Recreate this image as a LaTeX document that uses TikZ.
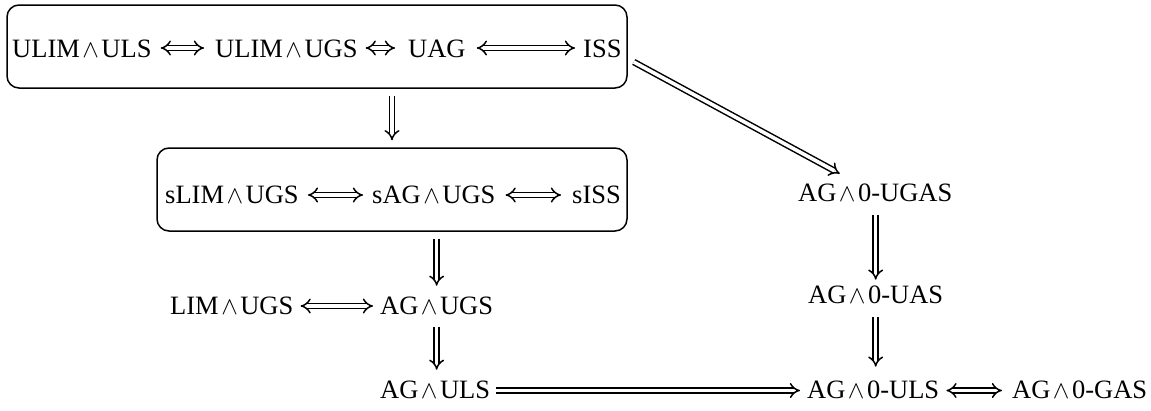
\documentclass[tikz,border=0pt]{standalone}
\usepackage{fontspec}
\setmainfont{Liberation Serif}
\usetikzlibrary{arrows.meta}

% logical "and" between two property names
\newcommand{\wg}{\kern2.5pt$\wedge$\kern2.5pt}

\begin{document}
\begin{tikzpicture}[x=1pt,y=-1pt,
  every node/.style={font=\fontsize{26.5}{30}\selectfont},
  lbl/.style={inner sep=0pt, anchor=base west},
  frame/.style={draw, line width=1.5pt, rounded corners=12pt, inner sep=0pt},
  imp/.style={double, double distance=3.6pt, line width=1.5pt, -{Implies[scale=1.3]}},
  iff/.style={double, double distance=3.6pt, line width=1.5pt, {Implies[scale=1.3]}-{Implies[scale=1.3]}},
]
\useasboundingbox (0,0) rectangle (1151,410);

% grouping frames
\node[frame, minimum width=620pt, minimum height=83pt] (top) at (317,46.5) {};
\node[frame, minimum width=470pt, minimum height=83pt] (mid) at (392,189.5) {};

% first row (uniform properties)
\node[lbl] (a1) at (12,57) {ULIM\wg ULS};
\node[lbl] (a2) at (215,57) {ULIM\wg UGS};
\node[lbl] (a3) at (408,57) {UAG};
\node[lbl] (a4) at (583,57) {ISS};

% second row (strong properties)
\node[lbl] (b1) at (165,203.5) {sLIM\wg UGS};
\node[lbl] (b2) at (372,203.5) {sAG\wg UGS};
\node[lbl] (b3) at (572,203.5) {sISS};

% third row
\node[lbl] (c1) at (170,314.5) {LIM\wg UGS};
\node[lbl] (c2) at (380,314.5) {AG\wg UGS};

% bottom row
\node[lbl] (d1) at (380,398.5) {AG\wg ULS};
\node[lbl] (d2) at (807,398.5) {AG\wg 0-ULS};
\node[lbl] (d3) at (1012,398.5) {AG\wg 0-GAS};

% right column
\node[lbl] (e1) at (798,201.5) {AG\wg 0-UGAS};
\node[lbl] (e2) at (808,303.5) {AG\wg 0-UAS};

% equivalences inside the rows
\draw[iff, shorten <=9pt, shorten >=11pt] ([yshift=9pt]a1.base east) -- ([yshift=9pt]a2.base west);
\draw[iff, shorten <=8pt, shorten >=13pt] ([yshift=9pt]a2.base east) -- ([yshift=9pt]a3.base west);
\draw[iff, shorten <=11pt, shorten >=8pt] ([yshift=9pt]a3.base east) -- ([yshift=9pt]a4.base west);
\draw[iff, shorten <=9pt, shorten >=9pt] ([yshift=8.5pt]b1.base east) -- ([yshift=8.5pt]b2.base west);
\draw[iff, shorten <=10pt, shorten >=11pt] ([yshift=8.5pt]b2.base east) -- ([yshift=8.5pt]b3.base west);
\draw[iff, shorten <=7pt, shorten >=7pt] ([yshift=8.5pt]c1.base east) -- ([yshift=8.5pt]c2.base west);
\draw[iff, shorten <=7pt, shorten >=10pt] ([yshift=8pt]d2.base east) -- ([yshift=8pt]d3.base west);

% implications
\draw[imp, shorten <=6pt, shorten >=7pt] ([yshift=8pt]d1.base east) -- ([yshift=8pt]d2.base west);
\draw[imp, shorten <=7pt, shorten >=7pt] (top.south -| mid.north) -- (mid.north);
\draw[imp, shorten <=7pt, shorten >=11pt] (mid.south -| c2.north) -- (c2.north);
\draw[imp, shorten <=12.5pt, shorten >=11pt] (c2.south) -- (c2.south |- d1.north);
\draw[imp, shorten <=13.5pt, shorten >=6pt] (e1.south -| e2.north) -- (e2.north);
\draw[imp, shorten <=13.5pt, shorten >=14pt] (e2.south) -- (e2.south |- d2.north);
\draw[imp] ([shift={(6pt,-15.5pt)}]top.east) -- ([shift={(-35.5pt,10pt)}]e1.north);
\end{tikzpicture}
\end{document}
